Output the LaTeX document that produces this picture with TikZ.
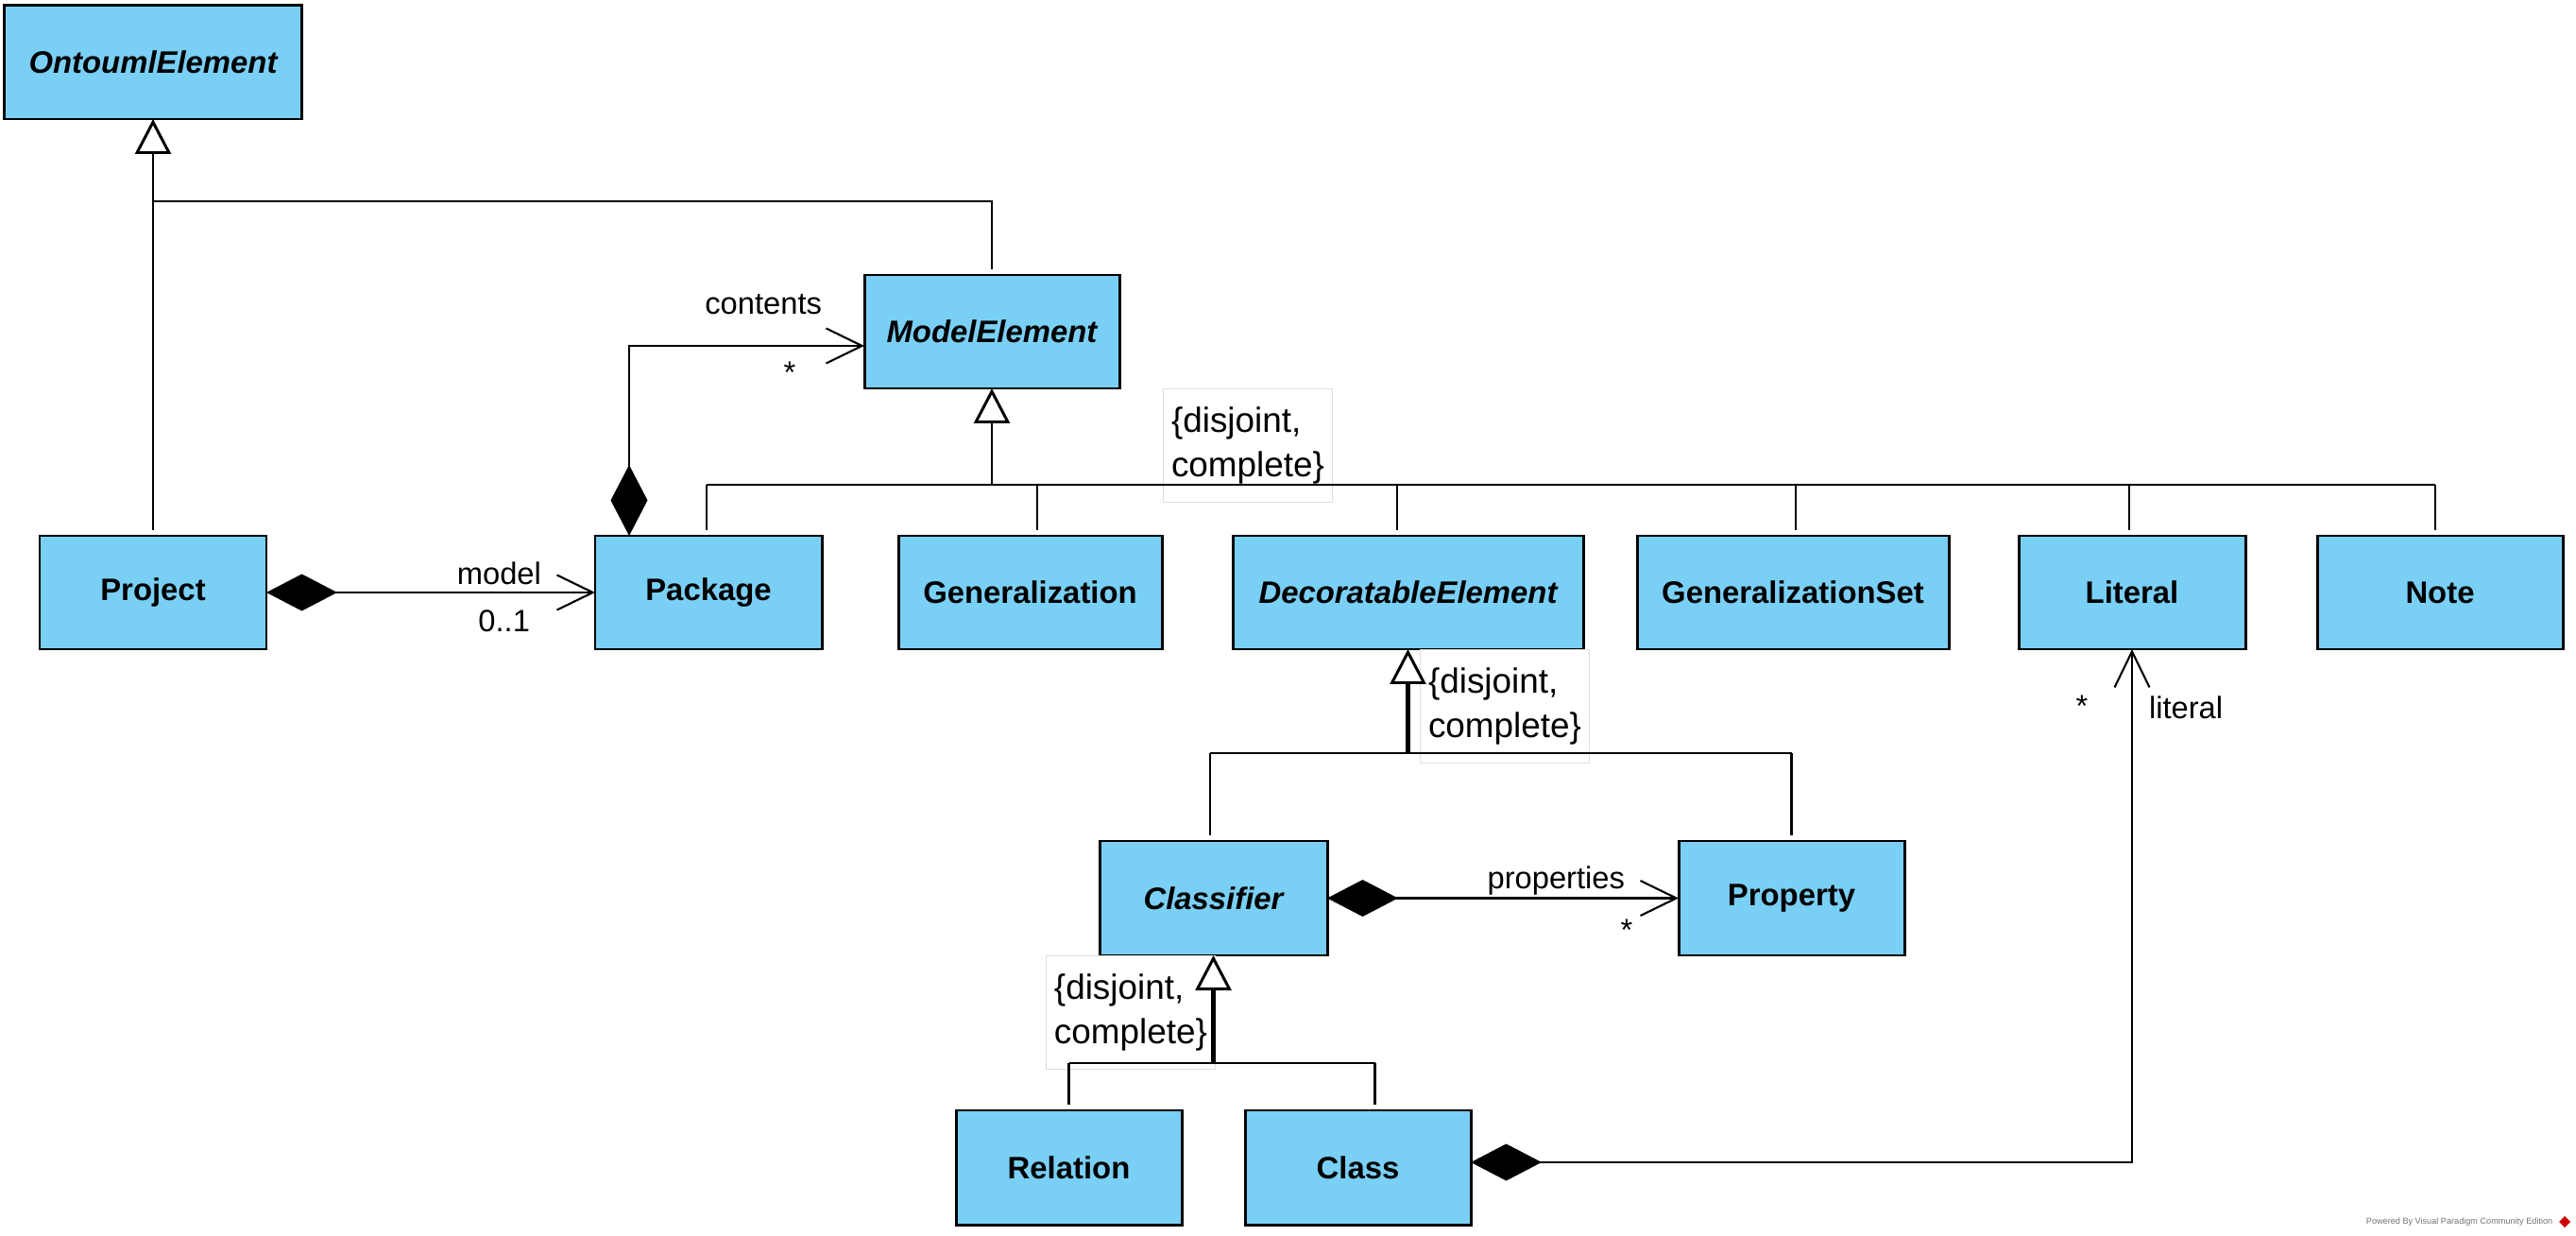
\documentclass[tikz,border=0pt]{standalone}
\usepackage{fontspec}
\setmainfont{Liberation Sans}
\usetikzlibrary{arrows.meta,positioning,calc}
\definecolor{vpblue}{RGB}{122,207,245}
\newcommand{\clsfont}{\fontsize{9.35}{11}\selectfont\bfseries}
\newcommand{\lblfont}{\fontsize{9.3}{11}\selectfont}
\newcommand{\csfont}{\fontsize{10.5}{13.6}\selectfont}

\begin{document}
\begin{tikzpicture}[auto, node distance=1cm]
\tikzstyle{cls}=[rectangle, fill=vpblue, draw=black, line width=0.85pt, outer sep=0pt, minimum height=1.2cm, inner sep=0pt, font=\clsfont]
\tikzstyle{abstractcls}=[cls, font=\clsfont\itshape]
\tikzstyle{constraint}=[rectangle, draw=black!13, line width=0.3pt, align=left, minimum width=1.79cm, minimum height=1.2cm, inner sep=0pt, font=\csfont]
\tikzstyle{lbl}=[inner sep=0pt, font=\lblfont]
\tikzstyle{conn}=[line width=0.75pt]
\tikzstyle{busline}=[line width=0.8pt]
\tikzstyle{genline}=[line width=0.75pt, -{Triangle[fill=white, length=0.37cm, width=0.38cm, line width=0.85pt]}]
\tikzstyle{trunkline}=[line width=1.4pt]
\tikzstyle{compline}=[line width=0.6pt, {Diamond[length=0.75cm, width=0.39cm]}-{Straight Barb[length=0.38cm, width=0.37cm]}]
\useasboundingbox (0,0) rectangle (27.27,-13.08);
% classes
\node[cls, minimum width=2.4cm]    (project)        at (1.62,-6.27)                         {Project};
\node[abstractcls, minimum width=3.15cm] (onto)     [above=4.41cm of project]               {OntoumlElement};
\node[cls, minimum width=2.4cm]    (package)        [right=3.48cm of project]               {Package};
\node[cls, minimum width=2.79cm]   (generalization) [right=0.81cm of package]               {Generalization};
\node[abstractcls, minimum width=3.71cm] (decor)    [right=0.75cm of generalization]        {DecoratableElement};
\node[cls, minimum width=3.3cm]    (genset)         [right=0.57cm of decor]                 {GeneralizationSet};
\node[cls, minimum width=2.4cm]    (literal)        [right=0.74cm of genset]                {Literal};
\node[cls, minimum width=2.6cm]    (note)           [right=0.76cm of literal]               {Note};
\node[abstractcls, minimum width=2.7cm] (model)     [above=1.56cm of generalization, xshift=-0.405cm] {ModelElement};
\node[abstractcls, minimum width=2.41cm, minimum height=1.21cm] (classifier) [below=2.03cm of decor, xshift=-2.06cm] {Classifier};
\node[cls, minimum width=2.39cm, minimum height=1.21cm] (property) [right=3.72cm of classifier] {Property};
\node[cls, minimum width=2.39cm, minimum height=1.21cm] (relation) [below=1.64cm of classifier, xshift=-1.53cm] {Relation};
\node[cls, minimum width=2.39cm, minimum height=1.21cm] (class)    [right=0.67cm of relation] {Class};
% generalization sets
\node[constraint, anchor=north west] (csmodel)      at ([xshift=1.81cm]model.south)   {\{disjoint,\\complete\}};
\node[constraint, anchor=north west] (csdecor)      at ([xshift=0.125cm]decor.south)  {\{disjoint,\\complete\}};
\node[constraint, anchor=north east] (csclassifier) at ([xshift=0.025cm]classifier.south) {\{disjoint,\\complete\}};
%
\coordinate (ontojoin)   at ($(onto.south)+(0,-0.87)$);
\coordinate (modelbus)   at ($(model.south)+(0,-1.02)$);
\coordinate (decorbus)   at ($(decor.south)+(0,-1.10)$);
\coordinate (classbus)   at ($(classifier.south)+(0,-1.14)$);
\coordinate (classdrop)  at ([xshift=0.18cm]class.north);
%
\draw[genline] ([yshift=0.06cm]project.north) -- (onto.south);
\draw[conn] ([yshift=0.06cm]model.north) |- (ontojoin);
%
\draw[genline] (modelbus) -- (model.south);
\draw[busline] ([xshift=-0.02cm]package.north |- modelbus) -- ([xshift=-0.05cm]note.north |- modelbus);
\foreach \n/\dx in {package/-0.02,generalization/0.075,decor/-0.115,genset/0.03,literal/-0.03,note/-0.05}
  \draw[conn] ([xshift=\dx cm]\n.north |- modelbus) -- ([xshift=\dx cm, yshift=0.06cm]\n.north);
%
\draw[genline, trunkline] (decorbus) -- (decor.south);
\draw[busline] ([xshift=-0.035cm]classifier.north |- decorbus) -- (property.north |- decorbus);
\foreach \n/\dx in {classifier/-0.035,property/0}
  \draw[conn] ([xshift=\dx cm]\n.north |- decorbus) -- ([xshift=\dx cm, yshift=0.06cm]\n.north);
%
\draw[genline, trunkline] (classbus) -- (classifier.south);
\draw[busline] (relation.north |- classbus) -- (classdrop |- classbus);
\draw[conn] (relation.north |- classbus) -- ([yshift=0.06cm]relation.north);
\draw[conn] (classdrop |- classbus) -- ([yshift=0.06cm]classdrop);
% compositions
\draw[compline] (project.east) -- (package.west)
      node[lbl, pos=1, anchor=base east, xshift=-0.56cm, yshift=0.09cm]  {model}
      node[lbl, pos=1, anchor=base east, xshift=-0.68cm, yshift=-0.42cm] {0..1};
\draw[compline] ([xshift=-0.84cm]package.north) |- ([yshift=-0.15cm]model.west)
      node[lbl, pos=1, anchor=base east, xshift=-0.44cm, yshift=0.33cm]  {contents}
      node[lbl, pos=1, anchor=base, xshift=-0.79cm, yshift=-0.40cm]      {*};
\draw[compline] (classifier.east) -- (property.west)
      node[lbl, pos=1, anchor=base east, xshift=-0.56cm, yshift=0.10cm]  {properties}
      node[lbl, pos=1, anchor=base, xshift=-0.55cm, yshift=-0.45cm]      {*};
\draw[compline] ([yshift=0.055cm]class.east) -| (literal.south)
      node[lbl, pos=1, anchor=base west, xshift=0.17cm, yshift=-0.74cm]  {literal}
      node[lbl, pos=1, anchor=base, xshift=-0.53cm, yshift=-0.71cm]      {*};
% watermark
\node[inner sep=0pt, anchor=east, text=black!55, font=\fontsize{2.6}{3}\selectfont] (powered) at (27.03,-12.93) {Powered By Visual Paradigm Community Edition};
\node[fill=red!80!black, rotate=45, minimum size=0.085cm, inner sep=0pt] (vplogo) at (27.15,-12.93) {};
\end{tikzpicture}
\end{document}
